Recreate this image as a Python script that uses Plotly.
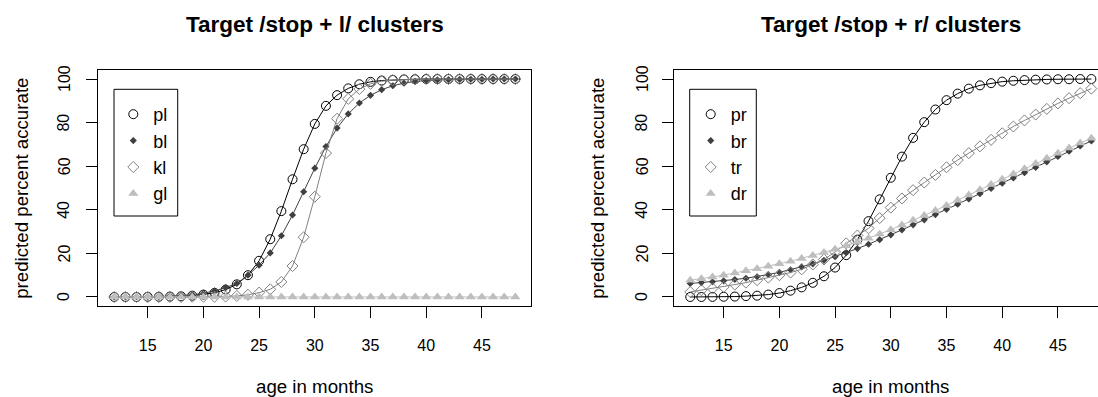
import plotly.graph_objects as go

months = [12, 13, 14, 15, 16, 17, 18, 19, 20, 21, 22, 23, 24, 25, 26, 27, 28, 29, 30,
          31, 32, 33, 34, 35, 36, 37, 38, 39, 40, 41, 42, 43, 44, 45, 46, 47, 48]

# Left panel: /stop + l/ clusters
pl = [0.0, 0.0, 0.0, 0.1, 0.1, 0.2, 0.3, 0.6, 1.1, 1.9, 3.4, 5.8, 10.0, 16.6, 26.5, 39.4,
      54.0, 67.8, 79.4, 87.7, 92.6, 95.7, 97.6, 98.7, 99.3, 99.6, 99.8, 99.9, 100, 100,
      100, 100, 100, 100, 100, 100, 100]
bl = [0.0, 0.0, 0.1, 0.1, 0.2, 0.4, 0.6, 1.0, 1.7, 2.8, 4.3, 6.2, 10.0, 14.6, 20.2, 28.1,
      37.6, 48.3, 59.1, 69.0, 77.5, 84.0, 89.0, 92.5, 95.1, 96.9, 98.1, 98.9, 99.3, 99.6,
      99.7, 99.8, 99.9, 99.9, 100, 100, 100]
kl = [0.0, 0.0, 0.0, 0.0, 0.0, 0.0, 0.0, 0.1, 0.1, 0.1, 0.2, 0.5, 1.0, 2.0, 3.5, 6.9,
      14.2, 27.4, 46.0, 66.0, 81.8, 90.9, 95.4, 97.8, 99.0, 99.5, 99.8, 99.9, 100, 100,
      100, 100, 100, 100, 100, 100, 100]
gl = [0.0, 0.0, 0.0, 0.0, 0.0, 0.0, 0.0, 0.0, 0.0, 0.0, 0.0, 0.0, 0.0, 0.0, 0.0, 0.0,
      0.0, 0.0, 0.0, 0.0, 0.0, 0.0, 0.0, 0.0, 0.0, 0.0, 0.0, 0.0, 0.0, 0.0, 0.0, 0.0,
      0.0, 0.0, 0.0, 0.0, 0.0]

# Right panel: /stop + r/ clusters
pr = [0.0, 0.0, 0.05, 0.1, 0.2, 0.4, 0.6, 1.1, 1.8, 2.9, 4.4, 6.5, 9.5, 13.5, 19.2, 26.3,
      34.8, 44.8, 54.7, 64.4, 73.0, 80.2, 86.0, 90.3, 93.3, 95.6, 97.1, 98.1, 98.8, 99.2,
      99.5, 99.7, 99.8, 99.9, 99.9, 100, 100]
br = [6.2, 6.6, 7.0, 7.4, 8.0, 8.6, 9.3, 10.3, 11.3, 12.5, 13.8, 15.2, 16.8, 18.5, 20.3,
      22.2, 24.2, 26.3, 28.5, 30.8, 33.1, 35.4, 37.8, 40.2, 42.6, 45.0, 47.4, 49.8, 52.2,
      54.6, 57.0, 59.4, 62.0, 64.5, 66.9, 69.3, 71.6]
tr = [2.3, 3.1, 3.9, 4.6, 5.7, 6.6, 7.7, 8.9, 10.0, 11.2, 12.7, 14.9, 17.2, 20.7, 24.6,
      28.2, 31.5, 36.2, 41.0, 45.2, 49.0, 52.5, 56.0, 59.5, 62.8, 66.0, 69.1, 72.1, 75.1,
      78.2, 81.0, 83.7, 86.3, 88.8, 91.2, 93.5, 95.6]
dr = [7.7, 8.4, 9.2, 10.0, 11.0, 12.0, 13.0, 14.1, 15.3, 16.4, 17.7, 19.0, 20.4, 21.9,
      23.5, 25.2, 27.0, 28.9, 30.9, 33.0, 35.2, 37.4, 39.7, 42.0, 44.4, 46.8, 49.2, 51.6,
      54.0, 56.4, 58.8, 61.2, 63.6, 66.0, 68.3, 70.6, 72.8]

x_ticks = [15, 20, 25, 30, 35, 40, 45]
y_ticks = [0, 20, 40, 60, 80, 100]
y_tick_text = ["0", "20", "40", "60", "80", "100"]
titles = ["Target /stop + l/ clusters", "Target /stop + r/ clusters"]
x_title = "age in months"
y_title = "predicted percent accurate"

FONT = "Liberation Sans, Arial, sans-serif"
W, H = 1098, 397

styles = [
    dict(symbol="circle-open", size=9, color="black", line=dict(width=1, color="black")),
    dict(symbol="diamond", size=5.5, color="#404040", line=dict(width=0)),
    dict(symbol="diamond-open", size=8.5, color="#808080", line=dict(width=1, color="#808080")),
    dict(symbol="triangle-up", size=9, color="#BEBEBE", line=dict(width=0)),
]
line_colors = ["black", "#404040", "#808080", "#BEBEBE"]

panels = [
    (["pl", "bl", "kl", "gl"], [pl, bl, kl, gl], "x", "y", "legend"),
    (["pr", "br", "tr", "dr"], [pr, br, tr, dr], "x2", "y2", "legend2"),
]

fig = go.Figure()
for names, series, xa, ya, lg in panels:
    for i, (nm, vals) in enumerate(zip(names, series)):
        fig.add_trace(go.Scatter(
            x=months, y=vals, mode="lines+markers", xaxis=xa, yaxis=ya,
            line=dict(color=line_colors[i], width=1), marker=styles[i],
            showlegend=False, hoverinfo="skip", cliponaxis=True))
    for i, nm in enumerate(names):
        fig.add_trace(go.Scatter(
            x=[None], y=[None], mode="markers", name=nm, xaxis=xa, yaxis=ya,
            marker=styles[i], showlegend=True, legend=lg))

# geometry in pixels
p1_left, p1_right = 98.2, 531.4
p2_left = 674.2
top_px, bot_px = 70.3, 305.7
unit = (p1_right - p1_left) / 38.88
x2_max = 10.56 + (W - p2_left) / unit

ydom = [1 - bot_px / H, 1 - top_px / H]

axis_common = dict(
    showgrid=False, zeroline=False, showline=True, linecolor="black", linewidth=1,
    ticks="outside", ticklen=11, tickwidth=1, tickcolor="black",
    tickfont=dict(family=FONT, size=16, color="black"),
)

fig.update_layout(
    width=W, height=H, margin=dict(l=0, r=0, t=0, b=0),
    paper_bgcolor="white", plot_bgcolor="white",
    font=dict(family=FONT, color="black"),
    xaxis=dict(domain=[p1_left / W, p1_right / W], range=[10.56, 49.44],
               tickvals=x_ticks, mirror=True, ticklabelstandoff=14, anchor="y", **axis_common),
    yaxis=dict(domain=ydom, range=[-4, 104], tickvals=y_ticks, mirror=True,
               showticklabels=False, anchor="x", **axis_common),
    xaxis2=dict(domain=[p2_left / W, 1.0], range=[10.56, x2_max],
                tickvals=x_ticks, mirror=True, ticklabelstandoff=14, anchor="y2", **axis_common),
    yaxis2=dict(domain=ydom, range=[-4, 104], tickvals=y_ticks, mirror=False,
                showticklabels=False, anchor="x2", **axis_common),
    legend=dict(x=113.3 / W, y=1 - 96.0 / H, xanchor="left", yanchor="top",
                bgcolor="rgba(0,0,0,0)", borderwidth=0,
                font=dict(family=FONT, size=18, color="black")),
    legend2=dict(x=690.7 / W, y=1 - 96.0 / H, xanchor="left", yanchor="top",
                 bgcolor="rgba(0,0,0,0)", borderwidth=0,
                 font=dict(family=FONT, size=18, color="black")),
    shapes=[
        dict(type="rect", xref="paper", yref="paper", x0=114 / W, x1=177.7 / W,
             y0=1 - 216 / H, y1=1 - 89.3 / H, line=dict(color="black", width=1)),
        dict(type="rect", xref="paper", yref="paper", x0=689.7 / W, x1=756.3 / W,
             y0=1 - 216 / H, y1=1 - 89.3 / H, line=dict(color="black", width=1)),
    ],
)

centers = [(p1_left + p1_right) / 2, p2_left + (p1_right - p1_left) / 2]
ann = []
for c, t, ytx, ylab_x, yref in zip(centers, titles, [21.8, 597.8], [64.0, 642.0], ["y", "y2"]):
    ann.append(dict(text=t, x=c / W, y=1 - 24.2 / H, xref="paper", yref="paper",
                    xanchor="center", yanchor="middle", showarrow=False,
                    font=dict(family=FONT, size=22.5, color="black", weight="bold")))
    ann.append(dict(text=x_title, x=c / W, y=1 - 386.6 / H, xref="paper", yref="paper",
                    xanchor="center", yanchor="middle", showarrow=False,
                    font=dict(family=FONT, size=18.7, color="black")))
    ann.append(dict(text=y_title, x=ytx / W, y=1 - ((top_px + bot_px) / 2) / H,
                    xref="paper", yref="paper", xanchor="center", yanchor="middle",
                    textangle=-90, showarrow=False,
                    font=dict(family=FONT, size=18.7, color="black")))
    for v, s in zip(y_ticks, y_tick_text):
        ann.append(dict(text=s, x=ylab_x / W, y=v, xref="paper", yref=yref,
                        xanchor="center", yanchor="middle", textangle=-90,
                        showarrow=False, font=dict(family=FONT, size=16, color="black")))
fig.update_layout(annotations=ann)

fig.write_html("out.html", config={"displayModeBar": False})
